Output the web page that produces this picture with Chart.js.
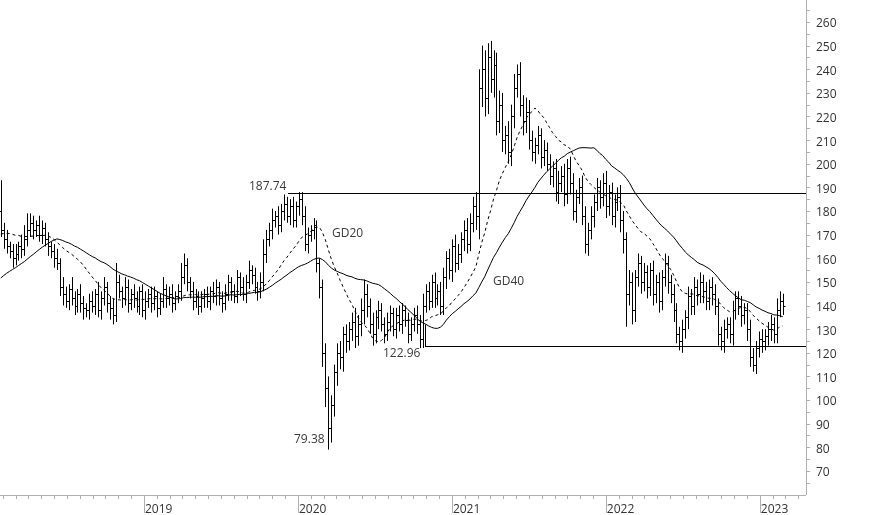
<!DOCTYPE html>
<html><head><meta charset="utf-8">
<script src="https://cdn.jsdelivr.net/npm/chart.js@4.4.1/dist/chart.umd.min.js"></script>
<style>html,body{margin:0;padding:0;background:#fff}#wrap{width:874px;height:515px}</style>
</head><body><div id="wrap"><canvas id="c" width="874" height="515"></canvas></div>
<script>
// weekly data starting at 2018.07
const startYear = 2018.07;
const preCloses = [125,127,130,128,132,129,131,134,130,133,135,132,130,134,136,133,131,135,138,
  158,162,165,163,168,170,166,172,169,171,174,170,168,173,171,167,170,175,178,180];
const closes = [
172,168,165,163,160,162,165,164,168,172,
175,172,174,170,173,168,165,163,160,158,
148,145,142,147,143,140,145,141,139,138,
142,140,145,138,143,148,141,139,136,150,
146,143,148,141,145,143,140,146,138,142,
145,141,144,139,142,147,143,145,141,144,
146,152,157,150,146,142,144,140,143,145,
142,146,144,148,143,141,145,150,146,144,
152,148,145,150,155,153,148,146,150,162,
168,172,176,178,174,180,183,178,182,176,
182,185,178,166,170,172,174,158,148,120,
105,88,98,112,120,118,128,125,130,133,
127,132,138,145,140,132,128,135,138,132,
128,133,137,130,136,132,138,134,128,132,
136,132,126,140,146,142,150,143,146,140,
152,160,155,165,158,162,168,172,166,175,
182,178,232,240,228,245,236,242,218,225,
210,212,205,220,232,238,225,218,222,210,
205,208,212,203,206,200,195,198,188,192,
195,187,198,192,180,186,190,178,166,172,
178,184,190,186,192,182,188,178,184,186,
176,168,145,150,138,152,158,150,154,148,
155,145,150,142,152,158,150,145,138,128,
125,130,135,144,140,148,145,150,146,142,
148,145,140,128,125,130,132,128,138,143,
140,136,138,130,118,115,122,126,125,127,
130,132,128,138,142,140];
const wickUp = [
13,3,4,2,3,4,2,5,6,7, 4,3,2,4,3,2,3,2,3,4, 2,4,3,2,5,3,2,4,3,2, 3,4,2,5,3,4,2,3,4,8,
3,2,4,3,2,4,3,2,3,4, 2,3,4,2,3,5,2,3,4,2, 3,6,5,3,2,4,3,2,3,2, 3,2,4,3,2,3,4,3,2,3,
3,2,4,3,4,2,3,2,4,6, 4,3,5,2,4,3,4,3,3,4, 2,3,3,4,3,2,3,2,2,3, 4,5,4,3,4,5,3,4,3,4,
6,4,5,6,4,3,5,3,4,3, 3,4,3,2,3,4,3,2,3,3, 3,4,4,5,3,4,3,4,3,4, 4,3,4,3,5,4,3,4,5,4,
4,6,8,10,8,6,7,6,5,6, 5,4,6,5,6,4,5,4,6,5, 4,3,4,3,4,3,4,3,4,5, 4,5,4,5,4,3,4,5,4,3,
4,3,4,3,4,5,3,4,3,4, 5,4,3,5,4,3,4,3,4,3, 3,4,3,4,3,4,3,3,4,3, 3,4,3,4,3,4,3,4,3,4,
3,4,4,3,3,4,3,3,4,3, 3,4,3,3,4,4,3,3,4,3, 3,4,3,5,4,3];
const wickDown = [
3,4,3,3,4,3,3,4,3,3, 3,4,3,3,4,3,4,3,4,3, 4,5,3,4,3,4,3,4,5,3, 4,3,4,3,4,3,4,5,4,3,
3,4,3,4,3,4,3,4,3,4, 3,4,3,4,3,3,4,3,4,3, 3,4,3,4,3,4,3,4,3,4, 3,4,3,4,3,4,3,3,4,3,
3,4,3,4,3,4,3,4,3,4, 4,3,4,3,4,3,4,3,4,3, 3,4,4,3,4,3,4,4,5,6, 8,9,6,5,6,5,6,5,4,5,
5,4,5,6,5,4,5,4,5,3, 4,3,4,3,4,3,4,3,4,3, 3,4,4,4,3,4,3,4,3,4, 4,5,4,5,4,3,4,5,4,3,
4,6,10,8,8,7,6,8,6,5, 5,6,5,6,5,4,5,6,5,4, 4,5,4,5,4,3,4,5,4,5, 4,5,4,5,4,5,3,4,4,5,
4,5,4,5,4,5,4,4,5,4, 5,6,14,5,6,5,4,5,4,5, 4,5,4,5,4,4,5,4,5,4, 4,5,4,5,4,4,5,4,5,4,
4,5,4,5,4,5,4,4,5,4, 4,5,4,5,4,3,4,4,5,4, 4,5,4,4,3,4];
const yTicks = [70,80,90,100,110,120,130,140,150,160,170,180,190,200,210,220,230,240,250,260];
const yearLabels = ["2019","2020","2021","2022","2023"];
const levels = [187.74, 122.96];
const lowLabel = 79.38;

const weekStep = 7/365.25;
const allCloses = preCloses.concat(closes);
function sma(n){const out=[];for(let i=0;i<closes.length;i++){const j=i+preCloses.length;let s=0;for(let k=j-n+1;k<=j;k++)s+=allCloses[k];out.push({x:startYear+i*weekStep,y:s/n});}return out;}
const xs = closes.map((c,i)=>startYear+i*weekStep);

const ohlcPlugin = {
  id:'ohlc',
  afterDatasetsDraw(chart){
    const ctx=chart.ctx, xS=chart.scales.x, yS=chart.scales.y, a=chart.chartArea;
    ctx.save();
    ctx.strokeStyle='#000'; ctx.lineWidth=1;
    for(let i=0;i<closes.length;i++){
      const o = i===0?preCloses[preCloses.length-1]:closes[i-1];
      const c = closes[i];
      const h = Math.max(o,c)+wickUp[i], l=Math.min(o,c)-wickDown[i];
      const px = Math.round(xS.getPixelForValue(xs[i]))+0.5;
      ctx.beginPath();
      ctx.moveTo(px, yS.getPixelForValue(h)); ctx.lineTo(px, yS.getPixelForValue(l));
      const yo=Math.round(yS.getPixelForValue(o))+0.5, yc=Math.round(yS.getPixelForValue(c))+0.5;
      ctx.moveTo(px-2,yo); ctx.lineTo(px,yo);
      ctx.moveTo(px,yc); ctx.lineTo(px+2,yc);
      ctx.stroke();
    }
    const lx=[288,425];
    levels.forEach((v,k)=>{
      const y=Math.round(yS.getPixelForValue(v))+0.5;
      ctx.beginPath(); ctx.moveTo(lx[k],y); ctx.lineTo(a.right,y); ctx.stroke();
      if(k===1){ctx.beginPath();ctx.moveTo(lx[k]+0.5,y);ctx.lineTo(lx[k]+0.5,y-22);ctx.stroke();}
    });
    ctx.font='12px "Open Sans", "DejaVu Sans", sans-serif';
    ctx.fillStyle='#3a3a3a'; ctx.textBaseline='middle';
    ctx.fillText(levels[0].toFixed(2),249,yS.getPixelForValue(levels[0])-6);
    ctx.fillText(levels[1].toFixed(2),383,yS.getPixelForValue(levels[1])+8);
    ctx.fillText(lowLabel.toFixed(2),294,yS.getPixelForValue(lowLabel)-9);
    ctx.fillText('GD20',332,234);
    ctx.fillText('GD40',493,282);
    ctx.strokeStyle='#b0b0b0';
    ctx.beginPath(); ctx.moveTo(a.right+0.5,0); ctx.lineTo(a.right+0.5,a.bottom); ctx.stroke();
    ctx.beginPath(); ctx.moveTo(0,a.bottom+0.5); ctx.lineTo(a.right,a.bottom+0.5); ctx.stroke();
    ctx.fillStyle='#333';
    for(let v=65; v<=265; v+=5){
      const y=Math.round(yS.getPixelForValue(v))+0.5;
      ctx.beginPath(); ctx.moveTo(a.right,y); ctx.lineTo(a.right+4,y); ctx.stroke();
    }
    yTicks.forEach(v=>ctx.fillText(String(v),a.right+10,yS.getPixelForValue(v)+2));
    for(let yr=2018; yr<=2023; yr++){
      for(let m=0;m<12;m++){
        const t=yr+m/12; if(t<xS.min||t>xS.max) continue;
        const x=Math.round(xS.getPixelForValue(t))+0.5;
        ctx.beginPath(); ctx.moveTo(x,a.bottom); ctx.lineTo(x,a.bottom+(m===0?18:4)); ctx.stroke();
      }
    }
    ctx.textBaseline='alphabetic';
    yearLabels.forEach(s=>{const x=xS.getPixelForValue(+s); ctx.fillText(s,x+1,a.bottom+18);});
    ctx.restore();
  }
};

new Chart(document.getElementById('c'),{
  type:'line',
  data:{datasets:[
    {data:sma(20),borderColor:'#000',borderWidth:1,borderDash:[3,3],pointRadius:0,tension:0},
    {data:sma(40),borderColor:'#000',borderWidth:1,pointRadius:0,tension:0}
  ]},
  options:{responsive:false,animation:false,
    layout:{padding:{left:0,top:0,right:68,bottom:20}},
    plugins:{legend:{display:false},tooltip:{enabled:false}},
    scales:{
      x:{type:'linear',min:2018.065,max:2023.3,display:false},
      y:{type:'linear',min:59.8,max:269.3,display:false}
    }},
  plugins:[ohlcPlugin]
});
</script></body></html>
